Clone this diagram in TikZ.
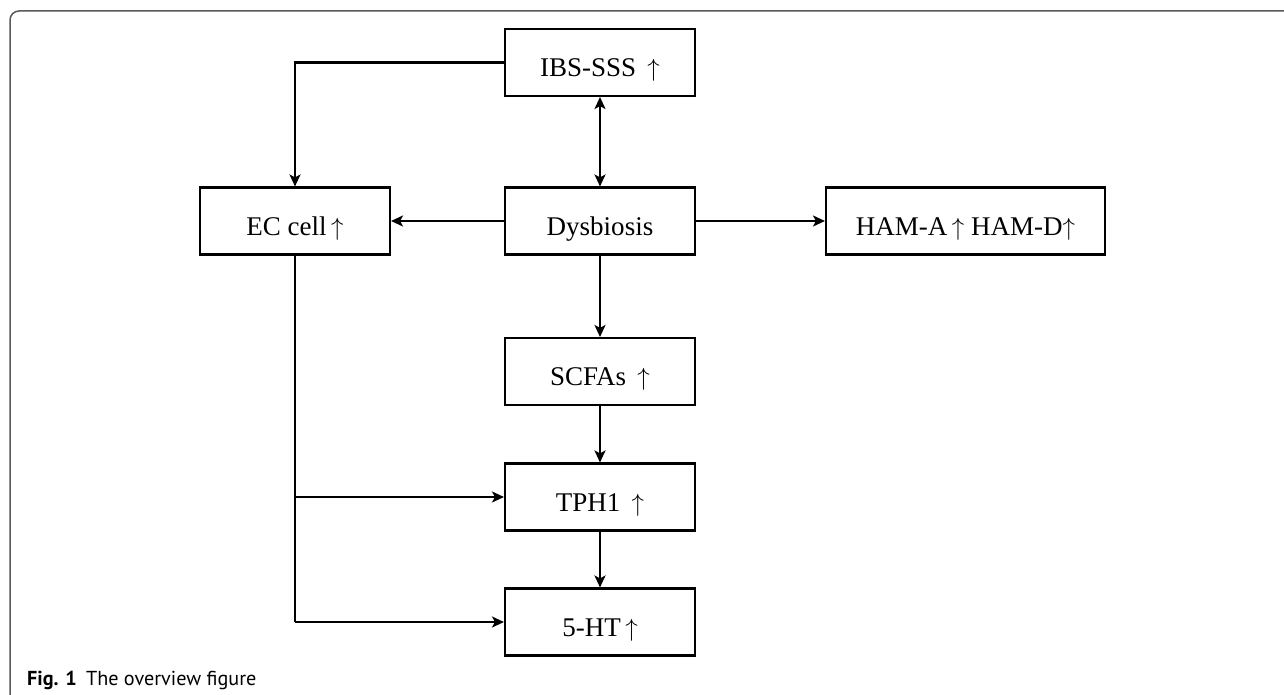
\documentclass[tikz,border=0pt]{standalone}
\usepackage{fontspec}
\setmainfont{Liberation Serif}
\newfontfamily\capfont{PT Sans}
\usetikzlibrary{arrows.meta}
\newcommand{\upar}{\ensuremath{\uparrow}}
\begin{document}
\begin{tikzpicture}[x=1pt,y=-1pt,
  box/.style={draw,line width=2.1pt,minimum height=67pt,inner sep=0pt,
    text height=28pt,text depth=0pt,
    font=\fontsize{27}{31}\selectfont},
  arr/.style={line width=2.1pt,-{Stealth[length=12pt,width=11pt,inset=3pt]}},
  darr/.style={line width=2.1pt,{Stealth[length=12pt,width=11pt,inset=3pt]}-{Stealth[length=12pt,width=11pt,inset=3pt]}},
  plain/.style={line width=2.1pt}]
\useasboundingbox (0,0) rectangle (1284,695);
\draw[line width=1.5pt,black!65,rounded corners=9pt] (1290,11) -- (10,11) -- (10,700);
\node[box,minimum width=190pt] (ibs) at (600,62.5) {IBS-SSS\, \upar};
\node[box,minimum width=190pt] (ec) at (295,221) {EC cell\,\upar};
\node[box,minimum width=190pt] (dys) at (600,221) {Dysbiosis};
\node[box,minimum width=279pt] (ham) at (965.5,221) {HAM-A\,\upar\ HAM-D\upar};
\node[box,minimum width=190pt] (scfa) at (600,371.5) {SCFAs\, \upar};
\node[box,minimum width=190pt] (tph) at (600,497) {TPH1\, \upar};
\node[box,minimum width=190pt] (ht) at (600,622) {5-HT\,\upar};
\coordinate (j1) at (ec.south |- tph.west);
\coordinate (j2) at (ec.south |- ht.west);
\draw[arr] (ibs.west) -| (ec.north);
\draw[darr] (ibs) -- (dys);
\draw[arr] (dys) -- (ec);
\draw[arr] (dys) -- (ham);
\draw[arr] (dys) -- (scfa);
\draw[arr] (scfa) -- (tph);
\draw[arr] (tph) -- (ht);
\draw[plain] (ec.south) -- (j2);
\draw[arr] (j1) -- (tph.west);
\draw[arr] (j2) -- (ht.west);
\node[anchor=base west,inner sep=0pt,font=\capfont\fontsize{20.2}{24}\selectfont] (cap) at (27,685) {\textbf{Fig. 1}\hspace{0.45em}The overview figure};
\end{tikzpicture}
\end{document}
